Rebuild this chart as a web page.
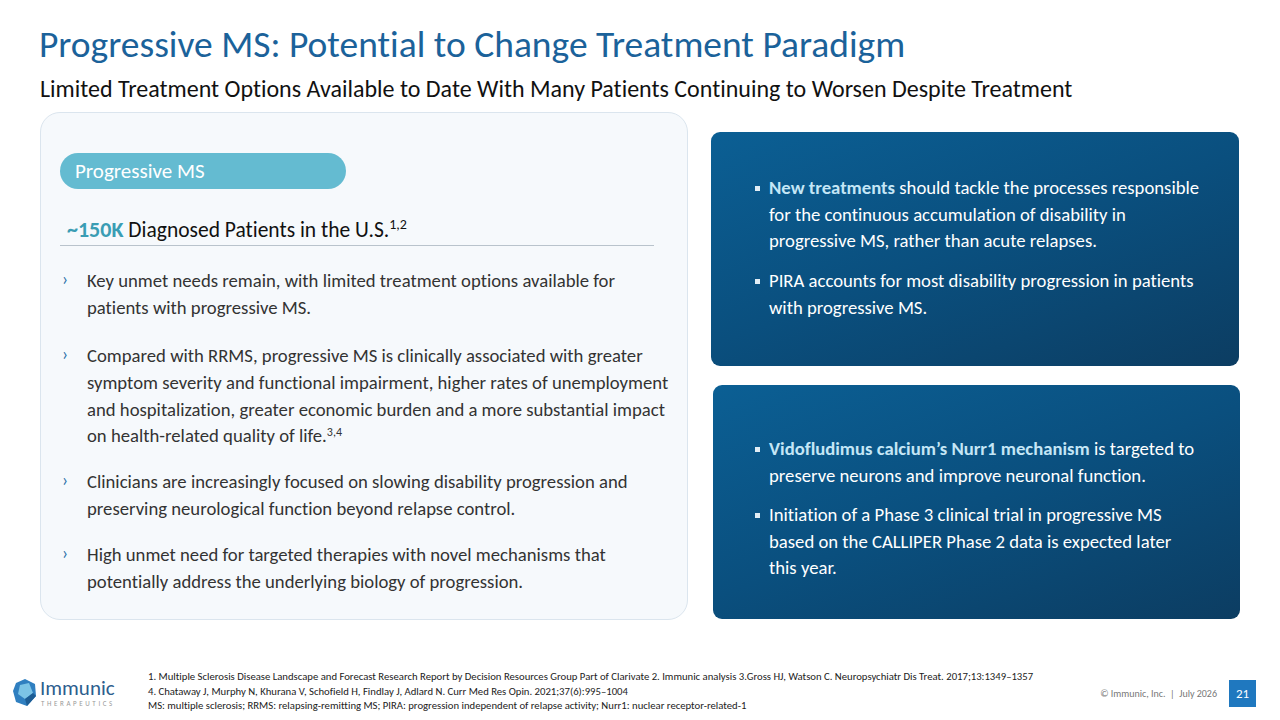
<!DOCTYPE html>
<html>
<head>
<meta charset="utf-8">
<script src="https://cdn.jsdelivr.net/npm/chart.js@4.4.0/dist/chart.umd.min.js"></script>
<style>
  html, body { margin: 0; padding: 0; }
  body { width: 1280px; height: 720px; background: #fff; position: relative; overflow: hidden;
         font-family: Carlito, Calibri, Lato, "Open Sans", sans-serif; font-variant-ligatures: none; }
  .abs { position: absolute; }
  sup { vertical-align: baseline; position: relative; top: -0.55em; line-height: 0; }
  #title { left: 39px; top: 21px; font-size: 37.5px; line-height: 46px; color: #1b629a; white-space: nowrap; }
  #subtitle { left: 40px; top: 74px; font-size: 24px; line-height: 29px; color: #111; white-space: nowrap; }
  #leftBox { left: 40px; top: 112px; width: 648px; height: 508px; background: #f6f9fc;
             border: 1px solid #dbe5ee; border-radius: 20px; box-sizing: border-box; }
  #pill { left: 60px; top: 153px; width: 286px; height: 36px; border-radius: 18px; background: #64bbd1;
          color: #fff; font-size: 21px; line-height: 36px; padding-left: 15px; box-sizing: border-box; }
  #stat { left: 67px; top: 216px; font-size: 21.5px; line-height: 28px; color: #111; white-space: nowrap; }
  #stat b { color: #3a9db4; font-size: 22px; }
  #stat sup { font-size: 14px; }
  #rule { left: 60px; top: 245px; width: 594px; height: 1px; background: #b9c3cc; }
  .lb { position: absolute; left: 87px; font-size: 18.7px; color: #333; line-height: 26.8px; white-space: nowrap; }
  .lb .chev { position: absolute; left: -25px; top: -2px; color: #2a6fa8; font-size: 18px; }
  .lb sup { font-size: 12px; }
  .rbox { position: absolute; border-radius: 9px;
          background: linear-gradient(160deg, #0b5f94 0%, #0a4f7e 50%, #0c3d62 100%); }
  .rb { position: absolute; left: 769px; font-size: 18.7px; color: #fff; line-height: 26.5px; white-space: nowrap; }
  .rb .sq { position: absolute; left: -14px; top: 11px; width: 5px; height: 5px; background: #e1edf5; }
  .rb b { color: #c4e6f6; }
  .fn { position: absolute; left: 148px; font-size: 10.7px; line-height: 13px; color: #222; white-space: nowrap; }
  #copy { right: 63px; top: 687px; font-size: 10px; line-height: 13px; color: #777; white-space: nowrap; }
  #page { left: 1229px; top: 680px; width: 27px; height: 27px; background: #1f78bf; color: #fff;
          font-size: 13px; text-align: center; line-height: 27px; }
  #logoText { left: 40px; top: 677px; font-size: 21px; line-height: 22px; color: #2d5e8e; }
  #logoSub { left: 41px; top: 700px; font-size: 7px; line-height: 8px; color: #9a9a9a; letter-spacing: 2.6px; }
</style>
</head>
<body>
<div id="title" class="abs">Progressive MS: Potential to Change Treatment Paradigm</div>
<div id="subtitle" class="abs">Limited Treatment Options Available to Date With Many Patients Continuing to Worsen Despite Treatment</div>

<div id="leftBox" class="abs"></div>
<div id="pill" class="abs">Progressive MS</div>
<div id="stat" class="abs"></div>
<div id="rule" class="abs"></div>

<div class="rbox" style="left:711px;top:132px;width:528px;height:234px;"></div>
<div class="rbox" style="left:713px;top:385px;width:527px;height:234px;"></div>

<svg class="abs" style="left:12px;top:678px" width="26" height="30" viewBox="0 0 26 30">
  <polygon points="4,5 13,1 23,6 24,18 15,28 4,24 1,13" fill="#2f7fc0"/>
  <polygon points="8,7 17,5 21,15 13,21 6,16" fill="#7cc4e6"/>
  <polygon points="13,21 21,15 24,18 15,28" fill="#1d5d94"/>
</svg>
<div id="logoText" class="abs">Immunic</div>
<div id="logoSub" class="abs">THERAPEUTICS</div>

<div id="copy" class="abs">© Immunic, Inc. &nbsp;|&nbsp; July 2026</div>
<div id="page" class="abs">21</div>

<script>
// slide content
const statValue = "~150K";
const statLabel = "Diagnosed Patients in the U.S.";
const statRefs = "1,2";

const leftBullets = [
  ["Key unmet needs remain, with limited treatment options available for", "patients with progressive MS."],
  ["Compared with RRMS, progressive MS is clinically associated with greater",
   "symptom severity and functional impairment, higher rates of unemployment",
   "and hospitalization, greater economic burden and a more substantial impact",
   "on health-related quality of life.<sup>3,4</sup>"],
  ["Clinicians are increasingly focused on slowing disability progression and",
   "preserving neurological function beyond relapse control."],
  ["High unmet need for targeted therapies with novel mechanisms that",
   "potentially address the underlying biology of progression."]
];
const leftTops = [268, 343, 469, 542];

const rightBullets = [
  ["<b>New treatments</b> should tackle the processes responsible",
   "for the continuous accumulation of disability in",
   "progressive MS, rather than acute relapses."],
  ["PIRA accounts for most disability progression in patients",
   "with progressive MS."],
  ["<b>Vidofludimus calcium’s Nurr1 mechanism</b> is targeted to",
   "preserve neurons and improve neuronal function."],
  ["Initiation of a Phase 3 clinical trial in progressive MS",
   "based on the CALLIPER Phase 2 data is expected later",
   "this year."]
];
const rightTops = [175, 268, 436, 502];

const footnotes = [
  "1. Multiple Sclerosis Disease Landscape and Forecast Research Report by Decision Resources Group Part of Clarivate 2. Immunic analysis 3.Gross HJ, Watson C. Neuropsychiatr Dis Treat. 2017;13:1349–1357",
  "4. Chataway J, Murphy N, Khurana V, Schofield H, Findlay J, Adlard N. Curr Med Res Opin. 2021;37(6):995–1004",
  "MS: multiple sclerosis; RRMS: relapsing-remitting MS; PIRA: progression independent of relapse activity; Nurr1: nuclear receptor-related-1"
];
const footTops = [670, 685, 699];

document.getElementById("stat").innerHTML =
  `<b>${statValue}</b> ${statLabel}<sup>${statRefs}</sup>`;

leftBullets.forEach((lines, i) => {
  const el = document.createElement("div");
  el.className = "lb";
  el.style.top = leftTops[i] + "px";
  el.innerHTML = `<span class="chev">›</span>` + lines.join("<br>");
  document.body.appendChild(el);
});

rightBullets.forEach((lines, i) => {
  const el = document.createElement("div");
  el.className = "rb";
  el.style.top = rightTops[i] + "px";
  el.innerHTML = `<span class="sq"></span>` + lines.join("<br>");
  document.body.appendChild(el);
});

footnotes.forEach((t, i) => {
  const el = document.createElement("div");
  el.className = "fn";
  el.style.top = footTops[i] + "px";
  el.textContent = t;
  document.body.appendChild(el);
});
</script>
</body>
</html>
